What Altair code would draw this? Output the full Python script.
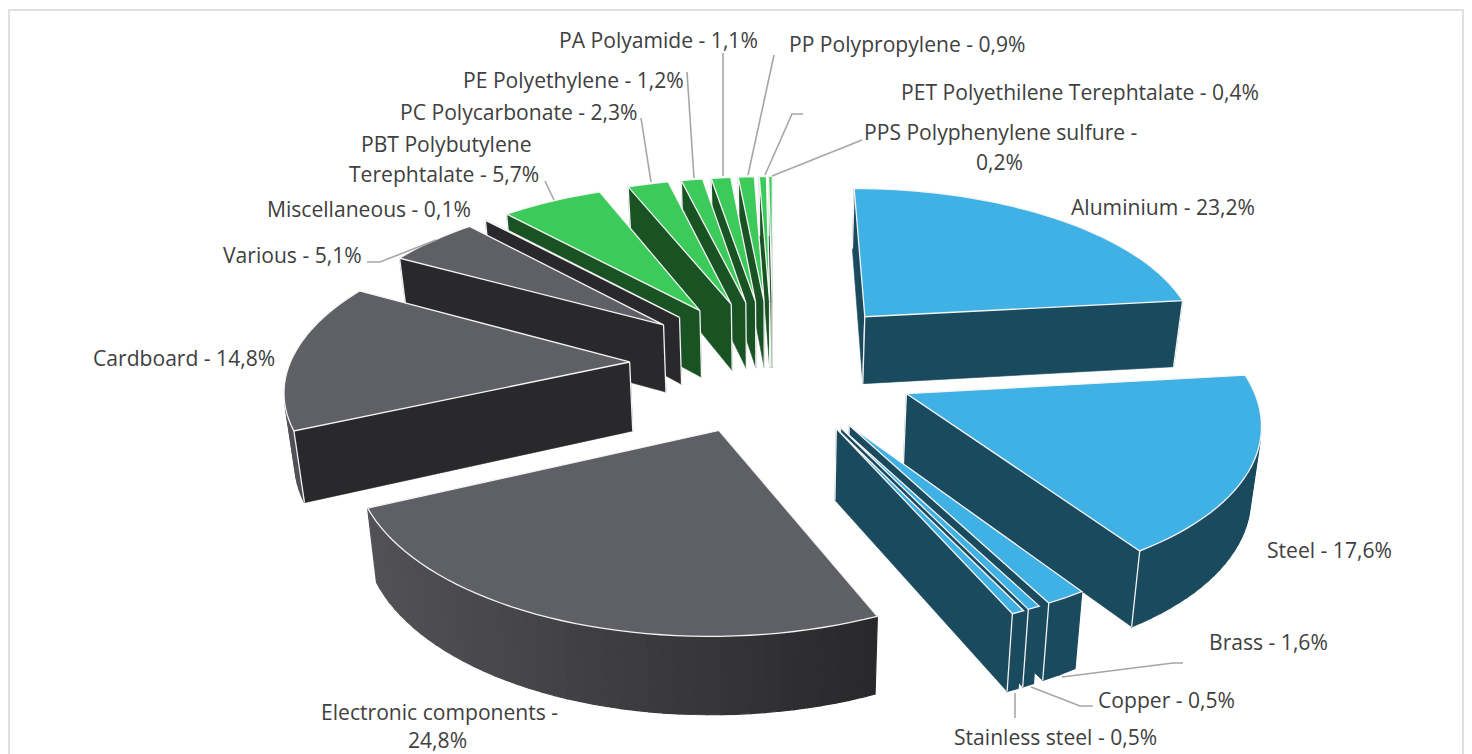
import math
import altair as alt

# ---- chart values ----
categories = ["Aluminium", "Steel", "Brass", "Copper", "Stainless steel",
              "Electronic components", "Cardboard", "Various", "Miscellaneous",
              "PBT Polybutylene Terephtalate", "PC Polycarbonate", "PE Polyethylene",
              "PA Polyamide", "PP Polypropylene", "PET Polyethilene Terephtalate",
              "PPS Polyphenylene sulfure"]
shares = [23.2, 17.6, 1.6, 0.5, 0.5, 24.8, 14.8, 5.1, 0.1, 5.7, 2.3, 1.2, 1.1, 0.9, 0.4, 0.2]
groups = ["metal"] * 5 + ["grey"] * 4 + ["plastic"] * 7

top_colors = {"metal": "#3fb1e5", "grey": "#5f6065", "plastic": "#3ccb5a"}
side_colors = {"metal": "#1a4a5e", "grey": "#29292c", "plastic": "#1a5323"}

label_rows = ["PA Polyamide - 1,1%", "PP Polypropylene - 0,9%",
              "PET Polyethilene Terephtalate - 0,4%", "PPS Polyphenylene sulfure -", "0,2%",
              "PE Polyethylene - 1,2%", "PC Polycarbonate - 2,3%", "PBT Polybutylene",
              "Terephtalate - 5,7%", "Miscellaneous - 0,1%", "Various - 5,1%",
              "Cardboard - 14,8%", "Aluminium - 23,2%", "Steel - 17,6%", "Brass - 1,6%",
              "Copper - 0,5%", "Stainless steel - 0,5%", "Electronic components -", "24,8%"]

# ---- layout (page pixels) ----
label_x = [559, 789, 901, 864, 976, 463, 400, 361, 349, 267, 223, 93, 1071, 1267, 1209, 1098, 954, 321, 408]
label_y = [42, 46, 94, 134, 164, 82, 114, 146, 176, 211, 257, 360, 209, 552, 644, 702, 739, 714, 742]
leaders = [
    [(641, 118), (651, 182)],
    [(687, 72), (694, 178)],
    [(723, 53), (723, 176)],
    [(774, 55), (748, 175)],
    [(803, 114), (792, 114), (765, 175)],
    [(862, 140), (772, 176)],
    [(545, 181), (554, 200)],
    [(367, 262), (380, 262), (436, 240)],
    [(1183, 663), (1173, 663), (1062, 677)],
    [(1093, 706), (1080, 706), (1031, 687)],
    [(1015, 718), (1015, 693)],
]
W, H = 1456, 746
CX, CY = 773, 364.5
RX, KX = 349, 0.14
RY, KY = 162, 0.14
EXPLODE = 0.412
RADIUS = 0.974
DEPTH, KD = 69, 0.10
XSHRINK = 0.978
PAGE = 8


def top(u, v):
    return (CX + RX * u / (1 + KX * v), CY - RY * v / (1 + KY * v))


def low(u, v):
    x, y = top(u, v)
    return (CX + (x - CX) * XSHRINK, y + DEPTH * (1 - KD * v))


def rel(pt):
    return [pt[0] - PAGE, pt[1] - PAGE]


def feature(kind, pts, fill, stroke, sw):
    coords = [rel(p) for p in pts]
    if kind == "Polygon":
        coords = [coords + [coords[0]]]
    return {"type": "Feature", "geometry": {"type": kind, "coordinates": coords},
            "properties": {"fill": fill, "stroke": stroke, "sw": sw}}


def area(pts):
    s = 0
    for i, p in enumerate(pts):
        q = pts[(i + 1) % len(pts)]
        s += p[0] * q[1] - q[0] * p[1]
    return s


def mix(group, x):
    if group != "grey":
        return side_colors[group]
    t = min(1, max(0, (877 - x) / 508))
    a, b = (0x28, 0x28, 0x2a), (0x52, 0x52, 0x56)
    return "#%02x%02x%02x" % tuple(round(a[i] + (b[i] - a[i]) * t) for i in range(3))


slices = []
acc = 0
for name, share, group in zip(categories, shares, groups):
    a0, a1 = acc * 3.6, (acc + share) * 3.6
    acc += share
    mid = math.radians((a0 + a1) / 2)
    ou, ov = EXPLODE * math.sin(mid), EXPLODE * math.cos(mid)
    slices.append((ov + 0.5 * math.cos(mid), a0, a1, ou, ov, group))
slices.sort(key=lambda s: -s[0])

features = []
for _, a0, a1, ou, ov, group in slices:
    n = max(1, int((a1 - a0) / 2))
    arc = [(ou + RADIUS * math.sin(math.radians(a0 + (a1 - a0) * i / n)),
            ov + RADIUS * math.cos(math.radians(a0 + (a1 - a0) * i / n))) for i in range(n + 1)]
    apex = (ou, ov)
    side = side_colors[group]

    def wall(p, q):
        return [top(*p), top(*q), low(*q), low(*p)]

    # outer wall
    for p, q in zip(arc, arc[1:]):
        w = wall(p, q)
        if area(w) < 0:
            c = mix(group, (w[0][0] + w[1][0]) / 2)
            features.append(feature("Polygon", w, c, c, 1.2))
    # radial walls
    for p, q in ((apex, arc[0]), (arc[-1], apex)):
        w = wall(p, q)
        if area(w) < 0:
            features.append(feature("Polygon", w, side, side, 0.6))
            for r in (p, q):
                features.append(feature("LineString", [top(*r), low(*r)], "transparent", "#f2f2f2", 1.3))
    # top
    features.append(feature("Polygon", [top(*apex)] + [top(*p) for p in arc],
                            top_colors[group], "#f4f4f4", 1.3))

for line in leaders:
    features.append(feature("LineString", line, "transparent", "#a6a6a6", 1.6))
features.append(feature("LineString", [(9, 754), (9, 10), (1463, 10), (1463, 754)],
                        "transparent", "#e0e0e0", 2))

shapes = alt.Chart(alt.Data(values=features)).mark_geoshape().encode(
    fill=alt.Fill("properties.fill:N", scale=None, legend=None),
    stroke=alt.Stroke("properties.stroke:N", scale=None, legend=None),
    strokeWidth=alt.StrokeWidth("properties.sw:Q", scale=None, legend=None),
).project(type="identity", scale=1, translate=[0, 0])

labels = alt.Chart(alt.Data(values=[
    {"t": t, "x": x - PAGE, "y": y - PAGE} for t, x, y in zip(label_rows, label_x, label_y)
])).mark_text(align="left", baseline="middle", font="Open Sans", fontSize=21.1, color="#404040").encode(
    x=alt.X("x:Q", scale=None, axis=None),
    y=alt.Y("y:Q", scale=None, axis=None),
    text="t:N",
)

chart = alt.layer(shapes, labels).properties(
    width=W, height=H, padding=0, autosize="none", background="white"
).configure_view(stroke=None)

chart.save("out.html", embed_options={"renderer": "svg", "actions": False})
